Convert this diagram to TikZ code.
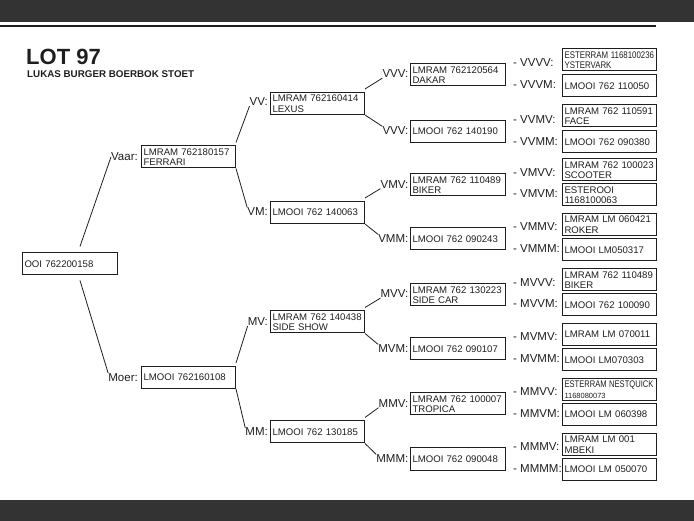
\documentclass[tikz,border=0pt]{standalone}
\usepackage{fontspec}
\setmainfont{Liberation Sans}
\usepackage{graphicx}
\usetikzlibrary{calc}
\definecolor{barcol}{HTML}{333333}
\definecolor{ink}{HTML}{1E1E1E}
\newcommand\boxfont{\fontsize{9.6}{10.6}\selectfont}
\newcommand\lblfont{\fontsize{11.5}{12}\selectfont}
\newcommand\cnd[1]{\scalebox{0.82}[1]{#1}}
\newcommand\cndn[1]{\scalebox{0.79}[1]{#1}}
\newcommand\cnds[1]{\scalebox{0.78}{#1}}
\tikzset{
  pbox/.style={draw=ink, line width=1pt, rectangle, inner xsep=2pt, inner ysep=0pt,
    minimum height=22pt, align=left, font=\boxfont, text=ink, text width=#1},
  pbox/.default=90pt,
  lbl/.style={inner sep=0pt, font=\lblfont, text=ink},
  lle/.style={lbl, anchor=east},
  llw/.style={lbl, anchor=west},
  conn/.style={draw=ink, line width=0.8pt}
}
\begin{document}
\begin{tikzpicture}[x=1pt,y=-1pt]
\useasboundingbox (0,0) rectangle (694,521);
% bars and header line
\fill[barcol] (0,0) rectangle (694,22);
\fill[barcol] (0,500) rectangle (694,521);
\draw[ink, line width=1.3pt] (0,26) -- (656,26);
% title
\node[anchor=base west, inner sep=0pt, text=ink, font=\bfseries\fontsize{22}{22}\selectfont] (title) at (26,65) {LOT 97};
\node[anchor=base west, inner sep=0pt, text=ink, font=\bfseries\fontsize{9.8}{10}\selectfont] (subtitle) at (27,77.5) {LUKAS BURGER BOERBOK STOET};

% level 0
\node[pbox=91pt] (root) at (70,264) {OOI 762200158};
% level 1
\node[pbox] (vaar) at (188.5,157) {LMRAM 762180157\\FERRARI};
\node[pbox] (moer) at (188.5,377.5) {LMOOI 762160108};
\node[lle] (lvaar) at (138,157) {Vaar:};
\node[lle] (lmoer) at (138,377.5) {Moer:};
% level 2
\node[pbox] (vv) at (317.5,103.5) {LMRAM 762160414\\LEXUS};
\node[pbox] (vm) at (317.5,212.5) {LMOOI 762 140063};
\node[pbox] (mv) at (317.5,322) {LMRAM 762 140438\\SIDE SHOW};
\node[pbox] (mm) at (317.5,432) {LMOOI 762 130185};
\node[lle] (lvv) at (268,102) {VV:};
\node[lle] (lvm) at (268,211.5) {VM:};
\node[lle] (lmv) at (268,322) {MV:};
\node[lle] (lmm) at (268,432) {MM:};
% level 3
\node[pbox=91pt] (vvv) at (458,75) {LMRAM 762120564\\DAKAR};
\node[pbox=91pt] (vvm) at (458,131.5) {LMOOI 762 140190};
\node[pbox=91pt] (vmv) at (458,185) {LMRAM 762 110489\\BIKER};
\node[pbox=91pt] (vmm) at (458,239) {LMOOI 762 090243};
\node[pbox=91pt] (mvv) at (458,295) {LMRAM 762 130223\\SIDE CAR};
\node[pbox=91pt] (mvm) at (458,349) {LMOOI 762 090107};
\node[pbox=91pt] (mmv) at (458,404) {LMRAM 762 100007\\TROPICA};
\node[pbox=91pt] (mmm) at (458,459) {LMOOI 762 090048};
\node[lle] (lvvv) at (408.5,74) {VVV:};
\node[lle] (lvvm) at (408.5,130.5) {VVV:};
\node[lle] (lvmv) at (408.5,184.5) {VMV:};
\node[lle] (lvmm) at (408.5,238.5) {VMM:};
\node[lle] (lmvv) at (408.5,294) {MVV:};
\node[lle] (lmvm) at (408.5,348.5) {MVM:};
\node[lle] (lmmv) at (408.5,403.5) {MMV:};
\node[lle] (lmmm) at (408.5,458.5) {MMM:};
% level 4
\node[pbox] (vvvv) at (609.5,60) {\cnd{ESTERRAM 1168100236}\\\cnd{YSTERVARK}};
\node[pbox] (vvvm) at (609.5,86) {LMOOI 762 110050};
\node[pbox] (vvmv) at (609.5,116) {LMRAM 762 110591\\FACE};
\node[pbox] (vvmm) at (609.5,142) {LMOOI 762 090380};
\node[pbox] (vmvv) at (609.5,170) {LMRAM 762 100023\\SCOOTER};
\node[pbox] (vmvm) at (609.5,195) {ESTEROOI\\1168100063};
\node[pbox] (vmmv) at (609.5,224.5) {LMRAM LM 060421\\ROKER};
\node[pbox] (vmmm) at (609.5,250) {LMOOI LM050317};
\node[pbox] (mvvv) at (609.5,280) {LMRAM 762 110489\\BIKER};
\node[pbox] (mvvm) at (609.5,305) {LMOOI 762 100090};
\node[pbox] (mvmv) at (609.5,334.5) {LMRAM LM 070011};
\node[pbox] (mvmm) at (609.5,360) {LMOOI LM070303};
\node[pbox] (mmvv) at (609.5,389.5) {\cndn{ESTERRAM NESTQUICK}\\\cnds{1168080073}};
\node[pbox] (mmvm) at (609.5,414.5) {LMOOI LM 060398};
\node[pbox] (mmmv) at (609.5,444.5) {LMRAM LM 001\\MBEKI};
\node[pbox] (mmmm) at (609.5,469.5) {LMOOI LM 050070};
\node[llw] (lvvvv) at (513,63) {- VVVV:};
\node[llw] (lvvvm) at (513,84.5) {- VVVM:};
\node[llw] (lvvmv) at (513,120) {- VVMV:};
\node[llw] (lvvmm) at (513,141.5) {- VVMM:};
\node[llw] (lvmvv) at (513,173) {- VMVV:};
\node[llw] (lvmvm) at (513,194) {- VMVM:};
\node[llw] (lvmmv) at (513,227) {- VMMV:};
\node[llw] (lvmmm) at (513,249) {- VMMM:};
\node[llw] (lmvvv) at (513,283) {- MVVV:};
\node[llw] (lmvvm) at (513,304) {- MVVM:};
\node[llw] (lmvmv) at (513,337) {- MVMV:};
\node[llw] (lmvmm) at (513,359) {- MVMM:};
\node[llw] (lmmvv) at (513,392) {- MMVV:};
\node[llw] (lmmvm) at (513,413.5) {- MMVM:};
\node[llw] (lmmmv) at (513,447) {- MMMV:};
\node[llw] (lmmmm) at (513,469) {- MMMM:};

% connectors
\draw[conn] ($(root.north)+(10,-6)$) -- (lvaar.west);
\draw[conn] ($(root.south)+(10,5)$) -- (lmoer.north west);
\foreach \p/\a/\b in {vaar/lvv/lvm, moer/lmv/lmm, vv/lvvv/lvvm, vm/lvmv/lvmm, mv/lmvv/lmvm, mm/lmmv/lmmm}{
  \draw[conn] ($(\p.north east)+(0,-3)$) -- (\a.south west);
  \draw[conn] (\p.south east) -- (\b.north west);
}
\end{tikzpicture}
\end{document}
